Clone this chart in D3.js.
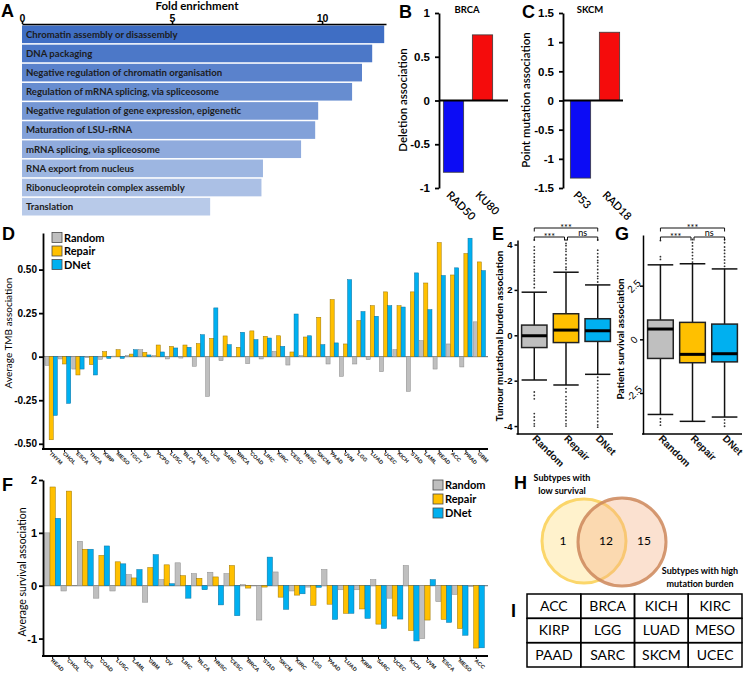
<!DOCTYPE html>
<html>
<head>
<meta charset="utf-8">
<script src="https://cdn.jsdelivr.net/npm/d3@7"></script>
<style>
  body { margin: 0; background: #fff; }
</style>
</head>
<body>
<div id="wrapper"></div>
<script>
// Data
const goTerms = [
  "Chromatin assembly or disassembly",
  "DNA packaging",
  "Negative regulation of chromatin organisation",
  "Regulation of mRNA splicing, via spliceosome",
  "Negative regulation of gene expression, epigenetic",
  "Maturation of LSU-rRNA",
  "mRNA splicing, via spliceosome",
  "RNA export from nucleus",
  "Ribonucleoprotein complex assembly",
  "Translation",
];
const goFold = [12.07, 11.67, 11.33, 11.0, 9.87, 9.77, 9.3, 8.03, 7.98, 6.27];

const brcaGenes = ["RAD50", "KU80"];
const brcaDeletion = [-0.82, 0.75];
const skcmGenes = ["P53", "RAD18"];
const skcmPointMutation = [-1.33, 1.17];

const seriesNames = ["Random", "Repair", "DNet"];

const tmbCancers = ["THYM", "CHOL", "ESCA", "THCA", "KIRP", "MESO", "TGCT", "OV", "PCPG",
  "LUSC", "BLCA", "DLBC", "UCS", "SARC", "BRCA", "COAD", "LIHC", "KIRC", "CESC", "HNSC",
  "SKCM", "PAAD", "UVM", "LGG", "LUAD", "UCEC", "KICH", "STAD", "LAML", "READ", "ACC",
  "PRAD", "GBM"];
const tmbRandom = [-0.05, -0.013, -0.071, -0.004, -0.015, 0.003, 0.006, 0.04, 0.006,
  -0.013, -0.008, -0.055, -0.228, -0.023, 0.002, -0.04, -0.013, 0.03, -0.048, 0.006,
  0.003, -0.042, -0.113, -0.042, -0.017, -0.086, 0.04, -0.199, 0.092, -0.071, 0.073,
  -0.059, 0.2];
const tmbRepair = [-0.477, -0.042, -0.105, -0.046, 0.029, 0.04, 0.015, 0.025, 0.067,
  0.059, 0.067, 0.075, 0.105, 0.119, 0.054, 0.148, 0.117, 0.12, 0.027, 0.113, 0.226,
  0.328, 0.073, 0.207, 0.293, 0.372, 0.293, 0.372, 0.423, 0.655, 0.469, 0.592, 0.544];
const tmbDNet = [-0.337, -0.268, -0.071, -0.105, -0.01, -0.01, 0.04, 0.01, 0.027,
  0.05, 0.054, 0.126, 0.28, 0.069, 0.14, 0.098, 0.107, 0.059, 0.245, 0.12, 0.069,
  0.079, 0.442, 0.259, 0.232, 0.293, 0.285, 0.481, 0.27, 0.466, 0.51, 0.68, 0.494];

const survCancers = ["READ", "CHOL", "UCS", "COAD", "LUSC", "LAML", "GBM", "OV", "LIHC",
  "BLCA", "HNSC", "CESC", "BRCA", "STAD", "SKCM", "KIRC", "LGG", "PAAD", "LUAD", "KIRP",
  "SARC", "UCEC", "KICH", "UVM", "ESCA", "MESO", "ACC"];
const survRandom = [1.0, -0.1, 0.84, -0.236, -0.1, 0.21, -0.312, 0.115, 0.433, 0.229,
  0.255, 0.229, 0.02, -0.65, 0.26, -0.1, -0.026, 0.306, -0.077, -0.077, 0.115, -0.236,
  0.382, -1.0, -0.3, -0.166, -0.013];
const survRepair = [1.868, 1.79, 0.69, 0.574, 0.452, 0.147, 0.344, 0.395, 0.19, 0.14,
  0.166, 0.382, -0.045, -0.026, -0.217, -0.178, -0.37, -0.35, -0.522, -0.44, -0.727,
  -0.574, -0.847, -0.65, -0.637, -0.81, -1.18];
const survDNet = [1.275, 0, 0.69, 0.752, 0.414, 0.306, 0.587, 0.038, -0.236, -0.076,
  -0.363, -0.567, 0, 0.541, -0.446, -0.153, -0.03, -0.637, -0.522, -0.618, -0.809,
  -0.631, -1.045, 0.115, -0.694, -0.937, -1.175];

// box stats: [lower whisker, q1, median, q3, upper whisker]
const tmbBoxStats = [
  [-1.97, -0.54, -0.02, 0.45, 1.9],
  [-2.19, -0.32, 0.23, 0.95, 2.78],
  [-1.72, -0.27, 0.2, 0.73, 2.22],
];
const tmbOutliers = [
  [2.1, 2.25, 2.4, 2.5, 2.65, 2.8, 2.9, 3.05, 3.2, 3.3, 3.45, 3.6, 3.75, 3.9, 4.2,
   -2.5, -2.65, -2.8, -3.45, -3.6, -3.75, -3.9, -4.0],
  [2.9, 3.0, 3.15, 3.3, 3.4, 3.55, 3.7, 3.8, 3.95, 4.05, 4.2,
   -2.35, -2.5, -2.7, -2.85, -3.0, -3.15, -3.3, -3.45, -3.6, -3.75, -3.9, -4.0],
  [2.35, 2.5, 2.6, 2.75, 2.9, 3.05, 3.2, 3.3, 3.45, 3.6, 3.75, 4.2,
   -1.85, -2.0, -2.15, -2.3, -2.45, -2.6, -2.75, -2.9, -3.05, -3.2, -3.35, -3.5,
   -3.65, -3.8, -3.95, -4.05],
];
const survBoxStats = [
  [-3.5, -0.89, 0.48, 0.9, 3.47],
  [-3.82, -1.09, -0.7, 0.79, 3.52],
  [-3.62, -1.05, -0.67, 0.71, 3.28],
];
const survOutliers = [
  [3.72, 3.85, 4.6, -3.7, -3.85, -4.0],
  [3.6, 3.75, 3.9, 4.05, 4.2, 4.35, 4.5, 4.65],
  [3.4, 3.55, 3.7, 3.85, 4.0, 4.15, 4.3, 4.5, 4.65, -3.75, -3.9, -4.05],
];
// significance: [from group, to group, label, level]
const signif = [
  [0, 2, "***", 0],
  [0, 1, "***", 1],
  [1, 2, "ns", 1],
];

const vennCounts = [1, 12, 15];
const tableCancers = ["ACC", "BRCA", "KICH", "KIRC", "KIRP", "LGG", "LUAD", "MESO",
  "PAAD", "SARC", "SKCM", "UCEC"];

// SVG-pohja
const wrapper = d3.select("#wrapper").append("svg")
  .attr("width", 744).attr("height", 678)
  .style("font-family", "Lato, 'Liberation Sans', sans-serif");

const seriesColors = ["#bfbfbf", "#ffc000", "#00b0f0"];
const seriesStrokes = ["#8a8a8a", "#9c7400", "#0b6f9e"];

function panelLetter(t, x, y) {
  wrapper.append("text").attr("x", x).attr("y", y).text(t)
    .style("font-family", "'Liberation Sans', Arial, sans-serif")
    .style("font-weight", "bold").style("font-size", "18px");
}

function styleAxis(g, w) {
  g.select(".domain").attr("stroke", "#000").attr("stroke-width", w);
  g.selectAll(".tick line").attr("stroke", "#000").attr("stroke-width", w);
  g.selectAll(".tick text").attr("fill", "#000");
}

// A: fold enrichment
const xA = d3.scaleLinear().domain([0, 12.13]).range([22, 386]);
const yA = d3.scaleBand().domain(goTerms).range([25.5, 215.5]).paddingInner(0.08);
const colorA = d3.scaleLinear().domain([0, goTerms.length - 1]).range(["#3f6ec4", "#b8cae9"]);
const gA = wrapper.append("g");
gA.selectAll("rect").data(goTerms).join("rect")
  .attr("x", xA(0))
  .attr("y", (d) => yA(d))
  .attr("width", (d, i) => xA(goFold[i]) - xA(0))
  .attr("height", yA.bandwidth())
  .attr("fill", (d, i) => colorA(i));
gA.selectAll("text.term").data(goTerms).join("text")
  .attr("class", "term")
  .attr("x", xA(0) + 4)
  .attr("y", (d) => yA(d) + yA.bandwidth() / 2 + 3.4)
  .text((d) => d)
  .style("font-size", "9.6px").style("font-weight", "bold").attr("fill", "#1c1c1c");
const axA = gA.append("g").attr("transform", "translate(0,24)")
  .call(d3.axisTop(xA).tickValues([0, 5, 10]).tickSize(3).tickSizeOuter(0).tickPadding(0));
styleAxis(axA, 1.6);
axA.selectAll(".tick text").style("font-size", "10.5px").style("font-weight", "bold").attr("dy", "0.1em");
gA.append("text").attr("x", 197).attr("y", 10).attr("text-anchor", "middle")
  .text("Fold enrichment").style("font-size", "11.5px").style("font-weight", "bold");
panelLetter("A", 1, 17);

// B, C: single-gene associations
function drawAssoc(cfg) {
  const g = wrapper.append("g");
  const y = d3.scaleLinear().domain(cfg.domain).range([188, 13]);
  const x = d3.scaleBand().domain(cfg.genes).range(cfg.xRange).paddingInner(0.3).paddingOuter(0.15);
  g.selectAll("rect").data(cfg.values).join("rect")
    .attr("x", (d, i) => x(cfg.genes[i]))
    .attr("width", x.bandwidth())
    .attr("y", (d) => y(Math.max(0, d)))
    .attr("height", (d) => Math.abs(y(d) - y(0)))
    .attr("fill", (d) => (d < 0 ? "#0c0cf5" : "#f50c0c"))
    .attr("stroke", "#3a3a3a").attr("stroke-width", 0.8);
  const ax = g.append("g").attr("transform", `translate(${cfg.axisX},0)`)
    .call(d3.axisLeft(y).tickValues(cfg.ticks).tickFormat((d) => String(d)).tickSize(4).tickSizeOuter(0).tickPadding(5));
  styleAxis(ax, 1.8);
  ax.selectAll(".tick text").style("font-size", "11.5px").style("font-weight", "600");
  g.append("line")
    .attr("x1", cfg.axisX).attr("x2", cfg.zeroEnd)
    .attr("y1", y(0)).attr("y2", y(0))
    .attr("stroke", "#000").attr("stroke-width", 2);
  g.selectAll("text.gene").data(cfg.genes).join("text")
    .attr("class", "gene")
    .attr("transform", (d) => `translate(${x(d) + x.bandwidth() / 2 - 5},193) rotate(45)`)
    .attr("dy", "0.35em")
    .text((d) => d)
    .style("font-size", "11px").style("font-weight", "600");
  g.append("text").attr("x", cfg.titleX).attr("y", 13).attr("text-anchor", "middle")
    .text(cfg.title).style("font-size", "9.5px").style("font-weight", "bold");
  g.append("text")
    .attr("transform", `translate(${cfg.yTitleX},100) rotate(-90)`)
    .attr("text-anchor", "middle")
    .text(cfg.yTitle).style("font-size", "11.5px").style("font-weight", "600");
}
drawAssoc({
  genes: brcaGenes, values: brcaDeletion, domain: [-1, 1], ticks: [1, 0.5, 0, -0.5, -1],
  xRange: [439, 497], axisX: 439, zeroEnd: 508, title: "BRCA", titleX: 467,
  yTitle: "Deletion association", yTitleX: 407,
});
drawAssoc({
  genes: skcmGenes, values: skcmPointMutation, domain: [-1.5, 1.5],
  ticks: [1.5, 1, 0.5, 0, -0.5, -1, -1.5],
  xRange: [566, 624], axisX: 563, zeroEnd: 623, title: "SKCM", titleX: 590,
  yTitle: "Point mutation association", yTitleX: 530,
});
panelLetter("B", 399, 18);
panelLetter("C", 522, 18);

// D, F: grouped bars
function drawGrouped(cfg) {
  const g = wrapper.append("g");
  const x0 = d3.scaleBand().domain(cfg.cats).range(cfg.xRange).paddingInner(cfg.pad).paddingOuter(cfg.pad / 2);
  const x1 = d3.scaleBand().domain([0, 1, 2]).range([0, x0.bandwidth()]);
  const y = d3.scaleLinear().domain(cfg.yDomain).range(cfg.yRange);
  const rows = cfg.cats.map((c, i) => ({ cat: c, vals: cfg.series.map((s) => s[i]) }));

  g.append("line")
    .attr("x1", cfg.axisX).attr("x2", cfg.xEnd).attr("y1", y(0)).attr("y2", y(0))
    .attr("stroke", "#444").attr("stroke-width", 0.8);

  const groups = g.selectAll("g.grp").data(rows).join("g")
    .attr("class", "grp")
    .attr("transform", (d) => `translate(${x0(d.cat)},0)`);
  groups.selectAll("rect").data((d) => d.vals).join("rect")
    .attr("x", (d, i) => x1(i))
    .attr("width", x1.bandwidth())
    .attr("y", (d) => y(Math.max(0, d)))
    .attr("height", (d) => Math.abs(y(d) - y(0)))
    .attr("fill", (d, i) => seriesColors[i])
    .attr("stroke", (d, i) => seriesStrokes[i])
    .attr("stroke-width", 0.5);

  const yAxis = g.append("g").attr("transform", `translate(${cfg.axisX},0)`)
    .call(d3.axisLeft(y).tickValues(cfg.ticks).tickFormat(cfg.fmt).tickSize(4).tickSizeOuter(0).tickPadding(2));
  styleAxis(yAxis, 1.8);
  yAxis.selectAll(".tick text").style("font-size", cfg.tickFont).style("font-weight", "bold");

  const xAxis = g.append("g").attr("transform", `translate(0,${cfg.yRange[0]})`)
    .call(d3.axisBottom(x0).tickSize(3).tickSizeOuter(0));
  xAxis.select(".domain").remove();
  xAxis.append("line").attr("x1", cfg.axisX - 1).attr("x2", cfg.xEnd)
    .attr("stroke", "#000").attr("stroke-width", 1.8);
  styleAxis(xAxis, 1);
  xAxis.selectAll(".tick text")
    .attr("transform", "rotate(45)")
    .attr("text-anchor", "start")
    .attr("x", 2).attr("y", 3).attr("dy", "0.35em")
    .style("font-size", "5.5px").style("font-weight", "bold").attr("fill", "#222");

  g.append("text")
    .attr("transform", `translate(${cfg.titleX},${cfg.titleY}) rotate(-90)`)
    .attr("text-anchor", "middle")
    .text(cfg.title).style("font-size", cfg.titleFont);

  const leg = g.append("g").attr("transform", `translate(${cfg.legend[0]},${cfg.legend[1]})`);
  const items = leg.selectAll("g").data(seriesNames).join("g")
    .attr("transform", (d, i) => `translate(0,${i * cfg.legend[2]})`);
  items.append("rect").attr("width", 10).attr("height", 10)
    .attr("fill", (d, i) => seriesColors[i]).attr("stroke", "#4a4a4a").attr("stroke-width", 0.8);
  items.append("text").attr("x", 12).attr("y", 9.2).text((d) => d)
    .style("font-size", "11px").style("font-weight", "bold");
}

drawGrouped({
  cats: tmbCancers, series: [tmbRandom, tmbRepair, tmbDNet],
  xRange: [44.5, 486], pad: 0.08, xEnd: 488, axisX: 43,
  yDomain: [-0.53, 0.71], yRange: [449, 233],
  ticks: [-0.5, -0.25, 0, 0.25, 0.5], fmt: (d) => (d === 0 ? "0" : d.toFixed(2)),
  tickFont: "10px",
  title: "Average TMB association", titleX: 12, titleY: 333, titleFont: "10px",
  legend: [52, 232.5, 13.5],
});
panelLetter("D", 2, 240);

drawGrouped({
  cats: survCancers, series: [survRandom, survRepair, survDNet],
  xRange: [44.5, 484.5], pad: 0.02, xEnd: 488, axisX: 43,
  yDomain: [-1.33, 2], yRange: [656, 480],
  ticks: [-1, 0, 1, 2], fmt: (d) => String(d),
  tickFont: "11px",
  title: "Average survival association", titleX: 26, titleY: 572, titleFont: "10.5px",
  legend: [433, 480, 14],
});
panelLetter("F", 2, 491);

// E, G: box plots
function drawBoxes(cfg) {
  const g = wrapper.append("g");
  const y = d3.scaleLinear().domain(cfg.yDomain).range(cfg.yRange);
  const x = d3.scaleBand().domain(seriesNames).range(cfg.xRange).paddingInner(0.2).paddingOuter(0.05);
  const bw = x.bandwidth();
  const boxes = g.selectAll("g.box").data(seriesNames).join("g")
    .attr("class", "box")
    .attr("transform", (d) => `translate(${x(d)},0)`);

  boxes.each(function (d, i) {
    const b = d3.select(this);
    const [lo, q1, med, q3, hi] = cfg.stats[i];
    b.selectAll("circle").data(cfg.outliers[i]).join("circle")
      .attr("cx", bw / 2).attr("cy", (v) => y(v)).attr("r", 0.9).attr("fill", "#333");
    b.append("line").attr("x1", bw / 2).attr("x2", bw / 2).attr("y1", y(hi)).attr("y2", y(lo))
      .attr("stroke", "#111").attr("stroke-width", 1.5);
    b.append("line").attr("x1", 0).attr("x2", bw).attr("y1", y(hi)).attr("y2", y(hi))
      .attr("stroke", "#111").attr("stroke-width", 1.5);
    b.append("line").attr("x1", 0).attr("x2", bw).attr("y1", y(lo)).attr("y2", y(lo))
      .attr("stroke", "#111").attr("stroke-width", 1.5);
    b.append("rect").attr("x", 0).attr("width", bw).attr("y", y(q3)).attr("height", y(q1) - y(q3))
      .attr("fill", seriesColors[i]).attr("stroke", "#222").attr("stroke-width", 1.5);
    b.append("line").attr("x1", 0).attr("x2", bw).attr("y1", y(med)).attr("y2", y(med))
      .attr("stroke", "#000").attr("stroke-width", 3);
  });

  const yAxis = g.append("g").attr("transform", `translate(${cfg.axisX},0)`)
    .call(d3.axisLeft(y).tickValues(cfg.ticks).tickFormat((d) => String(d)).tickSize(3).tickSizeOuter(0).tickPadding(2));
  styleAxis(yAxis, 1.5);
  yAxis.selectAll(".tick text").style("font-size", "9.5px").style("font-weight", "bold");
  if (cfg.rotateTicks) {
    yAxis.selectAll(".tick text")
      .attr("text-anchor", "middle").attr("x", 0).attr("dy", "0.35em")
      .attr("transform", "translate(-9,0) rotate(-45)")
      .style("font-weight", "normal").style("font-size", "10px");
  }

  const xAxis = g.append("g").attr("transform", `translate(0,${cfg.yRange[0]})`)
    .call(d3.axisBottom(x).tickSize(0).tickSizeOuter(0));
  xAxis.select(".domain").remove();
  xAxis.append("line").attr("x1", cfg.axisX - 1).attr("x2", cfg.xEnd)
    .attr("stroke", "#000").attr("stroke-width", 1.5);
  xAxis.selectAll(".tick text")
    .attr("transform", "rotate(45)").attr("text-anchor", "start")
    .attr("x", 2).attr("y", 2).attr("dy", "0.35em")
    .style("font-size", "10px").style("font-weight", "bold").attr("fill", "#111");

  g.append("text")
    .attr("transform", `translate(${cfg.titleX},${cfg.titleY}) rotate(-90)`)
    .attr("text-anchor", "middle")
    .text(cfg.title).style("font-size", "10px").style("font-weight", "bold");

  // significance brackets
  signif.forEach(([a, b, lab, lev]) => {
    const yy = cfg.bracketY[lev];
    const xa = x(seriesNames[a]) + bw / 2 + (lev === 1 && a > 0 ? 1.5 : 0);
    const xb = x(seriesNames[b]) + bw / 2 - (lev === 1 && b < 2 ? 1.5 : 0);
    g.append("path")
      .attr("d", `M${xa},${yy + 3.5}V${yy}H${xb}V${yy + 3.5}`)
      .attr("fill", "none").attr("stroke", "#111").attr("stroke-width", 1);
    g.append("text").attr("x", (xa + xb) / 2).attr("y", lab === "ns" ? yy - 1 : yy + 2.5)
      .attr("text-anchor", "middle").text(lab).style("font-size", "9px");
  });
}

drawBoxes({
  stats: tmbBoxStats, outliers: tmbOutliers,
  yDomain: [-4.35, 4.2], yRange: [434, 240], xRange: [520, 612],
  axisX: 517.5, xEnd: 613, ticks: [-4, -2, 0, 2, 4],
  title: "Tumour mutational burden association", titleX: 503, titleY: 336,
  bracketY: [228, 237],
});
panelLetter("E", 492, 240);

drawBoxes({
  stats: survBoxStats, outliers: survOutliers,
  yDomain: [-4.41, 4.86], yRange: [434, 235], xRange: [646, 739],
  axisX: 643, xEnd: 742, ticks: [-2.5, 0, 2.5], rotateTicks: true,
  title: "Patient survival association", titleX: 624, titleY: 339,
  bracketY: [228, 237],
});
panelLetter("G", 615, 240);

// H: Venn
const vennL = { cx: 584, cy: 541, r: 42 };
const vennR = { cx: 622, cy: 542, r: 44 };
const gH = wrapper.append("g");
gH.append("circle").attr("cx", vennL.cx).attr("cy", vennL.cy).attr("r", vennL.r)
  .attr("fill", "#fff2cc").attr("stroke", "#fbd66a").attr("stroke-width", 3);
gH.append("circle").attr("cx", vennR.cx).attr("cy", vennR.cy).attr("r", vennR.r)
  .attr("fill", "rgba(244,177,131,0.38)").attr("stroke", "rgba(205,135,90,0.85)").attr("stroke-width", 3);
const vennX = [
  (vennL.cx - vennL.r + vennR.cx - vennR.r) / 2 + 3,
  (vennR.cx - vennR.r + vennL.cx + vennL.r) / 2 + 4,
  (vennL.cx + vennL.r + vennR.cx + vennR.r) / 2 - 2,
];
gH.selectAll("text.count").data(vennCounts).join("text")
  .attr("class", "count")
  .attr("x", (d, i) => vennX[i]).attr("y", vennL.cy + 4)
  .attr("text-anchor", "middle").text((d) => d)
  .style("font-size", "12px");
gH.append("text").attr("x", 562).attr("y", 481).attr("text-anchor", "middle")
  .text("Subtypes with").style("font-size", "9px").style("font-weight", "bold");
gH.append("text").attr("x", 562).attr("y", 494).attr("text-anchor", "middle")
  .text("low survival").style("font-size", "9px").style("font-weight", "bold");
gH.append("text").attr("x", 700).attr("y", 574).attr("text-anchor", "middle")
  .text("Subtypes with high").style("font-size", "9px").style("font-weight", "bold");
gH.append("text").attr("x", 700).attr("y", 587).attr("text-anchor", "middle")
  .text("mutation burden").style("font-size", "9px").style("font-weight", "bold");
panelLetter("H", 514, 489);

// I: table
const nCols = 4;
const colX = d3.scaleBand().domain(d3.range(nCols)).range([527, 742]);
const rowY = d3.scaleBand().domain(d3.range(tableCancers.length / nCols)).range([594, 667]);
const gI = wrapper.append("g");
const cells = gI.selectAll("g").data(tableCancers).join("g")
  .attr("transform", (d, i) => `translate(${colX(i % nCols)},${rowY(Math.floor(i / nCols))})`);
cells.append("rect").attr("width", colX.bandwidth()).attr("height", rowY.bandwidth())
  .attr("fill", "none").attr("stroke", "#000").attr("stroke-width", 1.5);
cells.append("text").attr("x", colX.bandwidth() / 2).attr("y", rowY.bandwidth() / 2 + 5)
  .attr("text-anchor", "middle").text((d) => d).style("font-size", "14px");
panelLetter("I", 511, 617);
</script>
</body>
</html>
